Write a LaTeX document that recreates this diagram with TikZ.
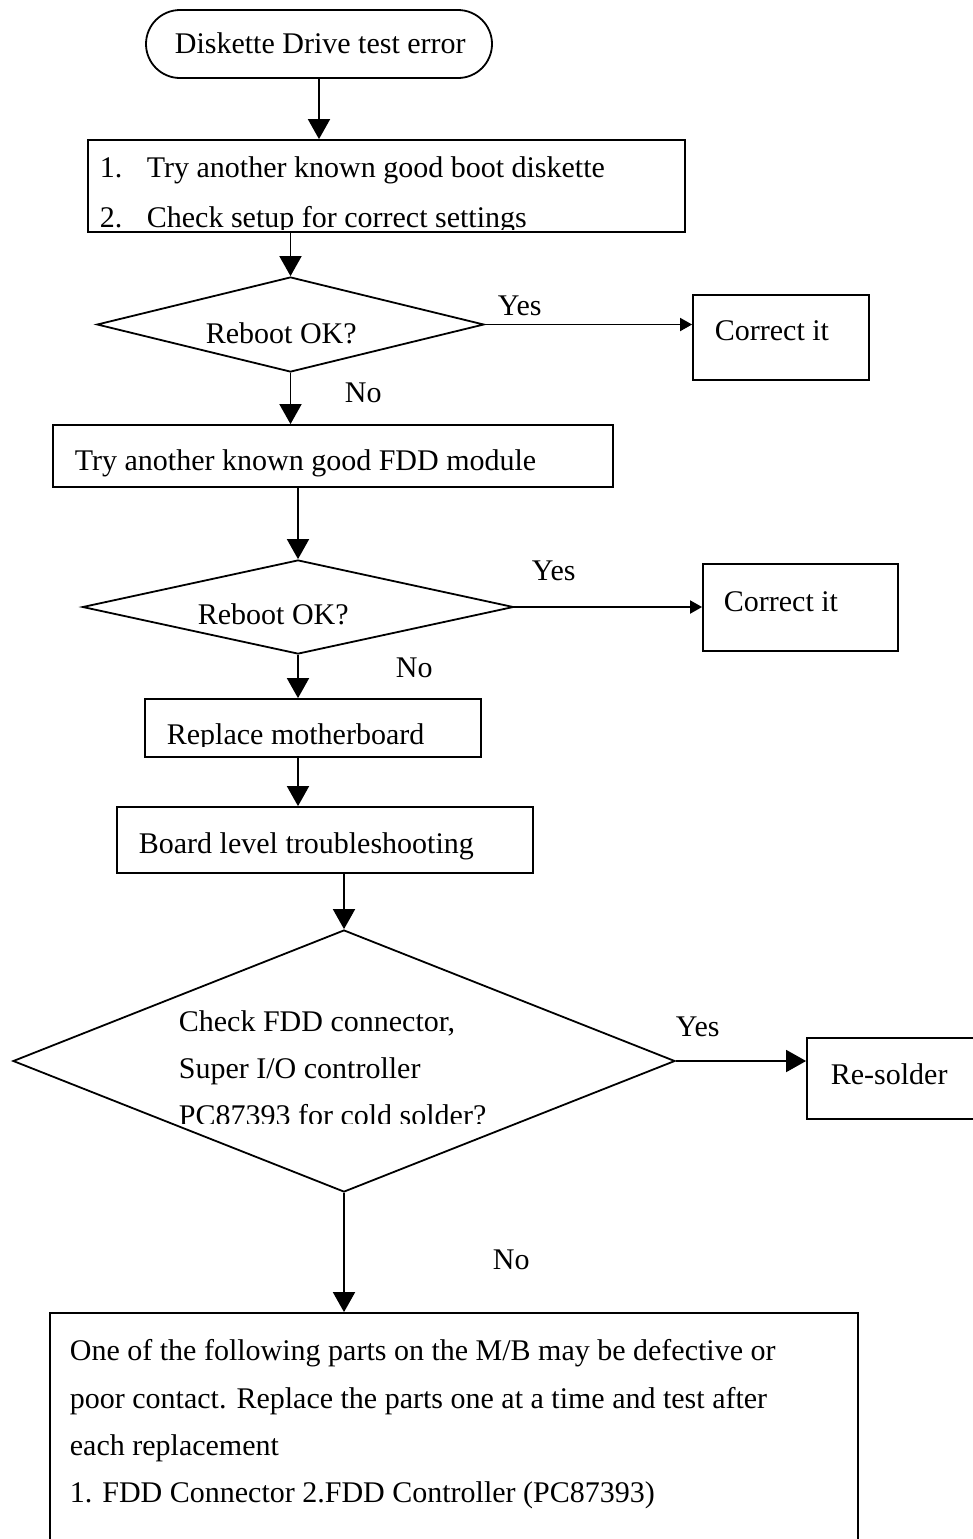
\documentclass[tikz,border=0pt]{standalone}
\usepackage{fontspec}
\setmainfont{Liberation Serif}
\usetikzlibrary{arrows.meta,shapes.geometric}
\begin{document}
\begin{tikzpicture}[x=0.5pt,y=-0.5pt, line width=0.9pt,
  box/.style={draw, rectangle, inner sep=0pt},
  dia/.style={draw, diamond, inner sep=0pt},
  txt/.style={anchor=base west, inner sep=0pt, font=\fontsize{15}{18}\selectfont},
  arr/.style={-{Triangle[length=10pt,width=11pt]}},
  arrs/.style={-{Triangle[length=6pt,width=6.5pt]}}]
\useasboundingbox (0,0) rectangle (973,1539);
\clip (0,0) rectangle (973,1539);

% shapes
\node[box, rounded corners=17pt, minimum width=173pt, minimum height=34pt] (start) at (319,44) {};
\node[box, minimum width=298.5pt, minimum height=46pt] (box1) at (386.5,186) {};
\node[dia, minimum width=193.5pt, minimum height=47.5pt] (d1) at (290.5,324.5) {};
\node[box, minimum width=88pt, minimum height=42.5pt] (correct1) at (781,337.5) {};
\node[box, minimum width=280pt, minimum height=31pt] (box2) at (333,456) {};
\node[dia, minimum width=215.5pt, minimum height=47pt] (d2) at (298,607) {};
\node[box, minimum width=97.5pt, minimum height=43.5pt] (correct2) at (800.5,607.5) {};
\node[box, minimum width=168pt, minimum height=29pt] (box3) at (313,728) {};
\node[box, minimum width=208pt, minimum height=33pt] (box4) at (325,840) {};
\node[dia, minimum width=331pt, minimum height=131pt] (d3) at (344,1061) {};
\node[box, minimum width=96.5pt, minimum height=40.5pt] (resolder) at (903.5,1078.5) {};
\node[box, minimum width=404pt, minimum height=128.5pt] (final) at (454,1441.5) {};

% texts
\node[txt] (t0) at (174,53) {Diskette Drive test error};
\node[txt] (t1a) at (99,177) {1.};
\node[txt] (t1b) at (146,177) {Try another known good boot diskette};
\begin{scope}
  \clip (90,190) rectangle (680,229);
  \node[txt] (t1c) at (99,227) {2.};
  \node[txt] (t1d) at (146,227) {Check setup for correct settings};
\end{scope}
\node[txt] (t2) at (205,343) {Reboot OK?};
\node[txt] (y1) at (497,315) {Yes};
\node[txt] (c1) at (714,340) {Correct it};
\node[txt] (n1) at (344,402) {No};
\node[txt] (t3) at (74,470) {Try another known good FDD module};
\node[txt] (t4) at (197,624) {Reboot OK?};
\node[txt] (y2) at (531,580) {Yes};
\node[txt] (c2) at (723,611) {Correct it};
\node[txt] (n2) at (395,677) {No};
\begin{scope}
  \clip (150,700) rectangle (478,746);
  \node[txt] (t5) at (166,744) {Replace motherboard};
\end{scope}
\begin{scope}
  \clip (120,810) rectangle (530,859);
  \node[txt] (t6) at (138,853) {Board level troubleshooting};
\end{scope}
\node[txt] (t7a) at (178,1031) {Check FDD connector,};
\node[txt] (t7b) at (178,1078) {Super I/O controller};
\begin{scope}
  \clip (170,1090) rectangle (520,1123);
  \node[txt] (t7c) at (178,1125) {PC87393 for cold solder?};
\end{scope}
\node[txt] (y3) at (675,1036) {Yes};
\node[txt] (rs) at (830,1084) {Re-solder};
\node[txt] (n3) at (492,1269) {No};
\node[txt] (f1) at (69,1360) {One of the following parts on the M/B may be defective or};
\node[txt] (f2) at (69,1408) {poor contact. Replace the parts one at a time and test after};
\node[txt] (f3) at (69,1455) {each replacement};
\node[txt] (f4) at (69,1502) {1. FDD Connector 2.FDD Controller (PC87393)};

% connectors
\draw[arr] (start.south) -- (start.south |- box1.north);
\draw[arr] (d1.north |- box1.south) -- (d1.north);
\draw[arrs] (d1.east) -- (d1.east -| correct1.west);
\draw[arr] (d1.south) -- (d1.south |- box2.north);
\draw[arr] (d2.north |- box2.south) -- (d2.north);
\draw[arrs] (d2.east) -- (d2.east -| correct2.west);
\draw[arr] (d2.south) -- (d2.south |- box3.north);
\draw[arr] (d2.south |- box3.south) -- (d2.south |- box4.north);
\draw[arr] (d3.north |- box4.south) -- (d3.north);
\draw[arr] (d3.east) -- (d3.east -| resolder.west);
\draw[arr] (d3.south) -- (d3.south |- final.north);
\end{tikzpicture}
\end{document}
